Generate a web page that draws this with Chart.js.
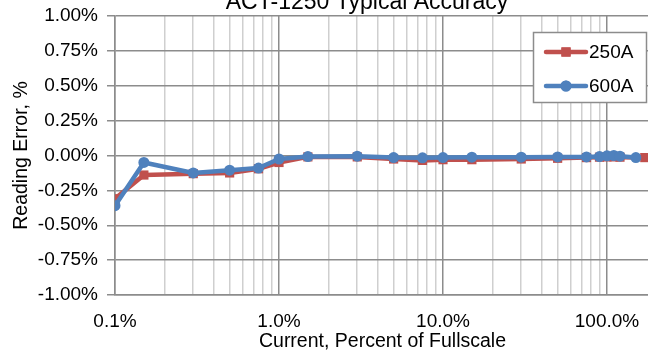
<!DOCTYPE html>
<html>
<head>
<meta charset="utf-8">
<script src="https://cdn.jsdelivr.net/npm/chart.js@4.4.0/dist/chart.umd.min.js"></script>
<style>
  html, body { margin: 0; padding: 0; background: #fff; }
  #wrap { position: relative; width: 648px; height: 350px; overflow: hidden; }
  #box { position: absolute; left: 0; top: 0; width: 660px; height: 350px; }
</style>
</head>
<body>
<div id="wrap"><div id="box"><canvas id="chart"></canvas></div></div>
<script>
// current, % of fullscale
const current250 = [0.1, 0.15, 0.3, 0.5, 0.75, 1, 1.5, 3, 5, 7.5, 10, 15, 30, 50, 75, 90, 100, 110, 120, 170];
const error250 = [-0.31, -0.14, -0.13, -0.125, -0.095, -0.05, -0.01, -0.01, -0.025, -0.035, -0.03, -0.03, -0.025, -0.02, -0.015, -0.012, -0.01, -0.01, -0.012, -0.015];
const current600 = [0.1, 0.15, 0.3, 0.5, 0.75, 1, 1.5, 3, 5, 7.5, 10, 15, 30, 50, 75, 90, 100, 110, 120, 150];
const error600 = [-0.36, -0.05, -0.125, -0.105, -0.09, -0.025, -0.008, -0.005, -0.015, -0.017, -0.015, -0.012, -0.012, -0.01, -0.01, -0.008, -0.002, 0, -0.005, -0.015];
const xTicks = [0.1, 0.2, 0.3, 0.4, 0.5, 0.6, 0.7, 0.8, 0.9, 1, 2, 3, 4, 5, 6, 7, 8, 9,
                10, 20, 30, 40, 50, 60, 70, 80, 90, 100];
const xLabels = { 0.1: '0.1%', 1: '1.0%', 10: '10.0%', 100: '100.0%' };

const RED = '#C0504D', BLUE = '#4F81BD';
const font = 'Liberation Sans, Arial, sans-serif';

function pts(xs, ys) { return xs.map((x, i) => ({ x: x, y: ys[i] })); }
function isMajor(v) { return Math.abs(Math.log10(v) - Math.round(Math.log10(v))) < 1e-6; }

// title + boxed legend drawn by hand, excel style
const extras = {
  id: 'extras',
  afterDraw(chart) {
    const ctx = chart.ctx;
    ctx.save();
    ctx.fillStyle = '#000';
    ctx.font = '23px ' + font;
    ctx.textAlign = 'center';
    ctx.textBaseline = 'alphabetic';
    ctx.fillText('ACT-1250 Typical Accuracy', 367, 9);

    const bx = 533.5, by = 32.5, bw = 113, bh = 70;
    ctx.fillStyle = '#fff';
    ctx.fillRect(bx, by, bw, bh);
    ctx.strokeStyle = '#8c8c8c';
    ctx.lineWidth = 1.5;
    ctx.strokeRect(bx, by, bw, bh);
    const rows = [{ i: 1, y: 52 }, { i: 0, y: 86 }];
    rows.forEach(r => {
      const ds = chart.data.datasets[r.i];
      ctx.strokeStyle = ds.borderColor;
      ctx.lineWidth = 4.5;
      ctx.lineCap = 'round';
      ctx.beginPath();
      ctx.moveTo(546, r.y);
      ctx.lineTo(586, r.y);
      ctx.stroke();
      ctx.fillStyle = ds.borderColor;
      Chart.helpers.drawPoint(ctx, { pointStyle: ds.pointStyle, radius: ds.pointRadius, borderWidth: 0 }, 566, r.y);
      ctx.fill();
      ctx.fillStyle = '#000';
      ctx.font = '19px ' + font;
      ctx.textAlign = 'left';
      ctx.textBaseline = 'middle';
      ctx.fillText(ds.label, 589, r.y + 1);
    });
    ctx.restore();
  }
};

new Chart(document.getElementById('chart'), {
  type: 'scatter',
  data: {
    datasets: [
      {
        label: '600A', data: pts(current600, error600), order: 1,
        showLine: true, borderColor: BLUE, backgroundColor: BLUE, borderWidth: 4.5,
        borderJoinStyle: 'round', borderCapStyle: 'round',
        pointStyle: 'circle', pointRadius: 5.5, pointBorderWidth: 0
      },
      {
        label: '250A', data: pts(current250, error250), order: 2,
        showLine: true, borderColor: RED, backgroundColor: RED, borderWidth: 4.5,
        borderJoinStyle: 'round', borderCapStyle: 'round',
        pointStyle: 'rect', pointRadius: 6.5, pointBorderWidth: 0
      }
    ]
  },
  options: {
    responsive: true,
    maintainAspectRatio: false,
    animation: false,
    layout: { padding: { top: 16, right: 10, left: 0, bottom: 0 } },
    plugins: { legend: { display: false }, tooltip: { enabled: false }, title: { display: false } },
    scales: {
      x: {
        type: 'logarithmic',
        min: 0.1,
        max: 182.9,
        afterBuildTicks: s => { s.ticks = xTicks.map(v => ({ value: v })); },
        afterFit: s => { s.height = 55; s.paddingLeft = 0; s.paddingRight = 0; },
        ticks: {
          autoSkip: false, maxRotation: 0, padding: 15, color: '#000',
          font: { family: font, size: 19 },
          callback: v => xLabels[v] || ''
        },
        grid: {
          drawTicks: false,
          color: c => (c.tick && isMajor(c.tick.value)) ? '#8c8c8c' : '#cfcfcf',
          lineWidth: 1.5
        },
        border: { color: '#8c8c8c', width: 1.5 },
        title: {
          display: true, text: 'Current, Percent of Fullscale', color: '#000',
          font: { family: font, size: 19.5 }, padding: { top: 0, bottom: -3 }
        }
      },
      y: {
        min: -1,
        max: 1,
        afterFit: s => { s.width = 115; s.paddingTop = 0; s.paddingBottom = 0; },
        ticks: {
          stepSize: 0.25, padding: 9, color: '#000',
          font: { family: font, size: 19 },
          callback: v => v.toFixed(2) + '%'
        },
        grid: { color: '#8c8c8c', lineWidth: 1.5, tickLength: 8 },
        border: { color: '#8c8c8c', width: 1.5 },
        title: {
          display: true, text: 'Reading Error, %', color: '#000',
          font: { family: font, size: 19.5 }, padding: { top: 10, bottom: 0 }
        }
      }
    }
  },
  plugins: [extras]
});
</script>
</body>
</html>
